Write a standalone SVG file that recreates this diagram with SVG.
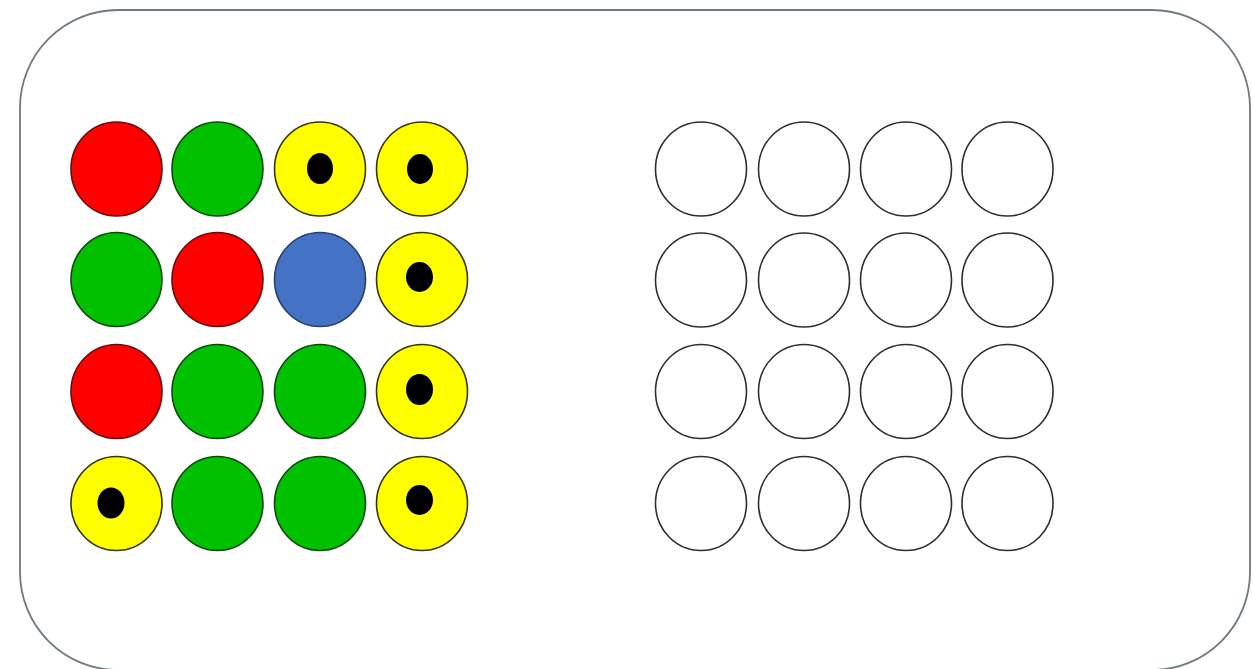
<svg xmlns="http://www.w3.org/2000/svg" width="1253" height="669" viewBox="0 0 1253 669">
<style>
.frame{fill:#ffffff;stroke:#6e7b7e;stroke-width:1.8}
.c{stroke-width:1.6}
.r{fill:#ff0000;stroke:#6a0a0a}
.g{fill:#00c000;stroke:#0b4a0b}
.y{fill:#ffff00;stroke:#3a3300}
.b{fill:#4472c4;stroke:#2a3f6e}
.e{fill:#ffffff;stroke:#2e2e2e;stroke-width:1.6}
.dot{fill:#000000}
</style>
<rect width="1253" height="669" fill="#ffffff"/>
<rect class="frame" x="20" y="10" width="1230" height="660" rx="98" ry="98"/>
<g id="left-grid">
<g id="L11"><ellipse class="c r" cx="116.5" cy="169" rx="45.5" ry="47"/></g>
<g id="L12"><ellipse class="c g" cx="217.5" cy="169" rx="45.5" ry="47"/></g>
<g id="L13"><ellipse class="c y" cx="320" cy="169" rx="45.5" ry="47"/><ellipse class="dot" cx="320" cy="168.5" rx="13" ry="15.5"/></g>
<g id="L14"><ellipse class="c y" cx="422" cy="169" rx="45.5" ry="47"/><ellipse class="dot" cx="420" cy="169" rx="13" ry="15"/></g>
<g id="L21"><ellipse class="c g" cx="116.5" cy="279.5" rx="45.5" ry="47"/></g>
<g id="L22"><ellipse class="c r" cx="217.5" cy="279.5" rx="45.5" ry="47"/></g>
<g id="L23"><ellipse class="c b" cx="320" cy="279.5" rx="45.5" ry="47"/></g>
<g id="L24"><ellipse class="c y" cx="422" cy="279.5" rx="45.5" ry="47"/><ellipse class="dot" cx="419.5" cy="277" rx="13.5" ry="15"/></g>
<g id="L31"><ellipse class="c r" cx="116.5" cy="391.5" rx="45.5" ry="47"/></g>
<g id="L32"><ellipse class="c g" cx="217.5" cy="391.5" rx="45.5" ry="47"/></g>
<g id="L33"><ellipse class="c g" cx="320" cy="391.5" rx="45.5" ry="47"/></g>
<g id="L34"><ellipse class="c y" cx="422" cy="391.5" rx="45.5" ry="47"/><ellipse class="dot" cx="419.5" cy="389.5" rx="13.5" ry="15.5"/></g>
<g id="L41"><ellipse class="c y" cx="116.5" cy="503.5" rx="45.5" ry="47"/><ellipse class="dot" cx="111" cy="503" rx="13.5" ry="15.5"/></g>
<g id="L42"><ellipse class="c g" cx="217.5" cy="503.5" rx="45.5" ry="47"/></g>
<g id="L43"><ellipse class="c g" cx="320" cy="503.5" rx="45.5" ry="47"/></g>
<g id="L44"><ellipse class="c y" cx="422" cy="503.5" rx="45.5" ry="47"/><ellipse class="dot" cx="419.5" cy="500" rx="13.5" ry="15"/></g>
</g>
<g id="right-grid">
<g id="R11"><ellipse class="e" cx="701" cy="169" rx="45.5" ry="47"/></g>
<g id="R12"><ellipse class="e" cx="804" cy="169" rx="45.5" ry="47"/></g>
<g id="R13"><ellipse class="e" cx="906" cy="169" rx="45.5" ry="47"/></g>
<g id="R14"><ellipse class="e" cx="1007.5" cy="169" rx="45.5" ry="47"/></g>
<g id="R21"><ellipse class="e" cx="701" cy="280" rx="45.5" ry="47"/></g>
<g id="R22"><ellipse class="e" cx="804" cy="280" rx="45.5" ry="47"/></g>
<g id="R23"><ellipse class="e" cx="906" cy="280" rx="45.5" ry="47"/></g>
<g id="R24"><ellipse class="e" cx="1007.5" cy="280" rx="45.5" ry="47"/></g>
<g id="R31"><ellipse class="e" cx="701" cy="391.5" rx="45.5" ry="47"/></g>
<g id="R32"><ellipse class="e" cx="804" cy="391.5" rx="45.5" ry="47"/></g>
<g id="R33"><ellipse class="e" cx="906" cy="391.5" rx="45.5" ry="47"/></g>
<g id="R34"><ellipse class="e" cx="1007.5" cy="391.5" rx="45.5" ry="47"/></g>
<g id="R41"><ellipse class="e" cx="701" cy="503.5" rx="45.5" ry="47"/></g>
<g id="R42"><ellipse class="e" cx="804" cy="503.5" rx="45.5" ry="47"/></g>
<g id="R43"><ellipse class="e" cx="906" cy="503.5" rx="45.5" ry="47"/></g>
<g id="R44"><ellipse class="e" cx="1007.5" cy="503.5" rx="45.5" ry="47"/></g>
</g>
<g id="connectors"></g>
</svg>
